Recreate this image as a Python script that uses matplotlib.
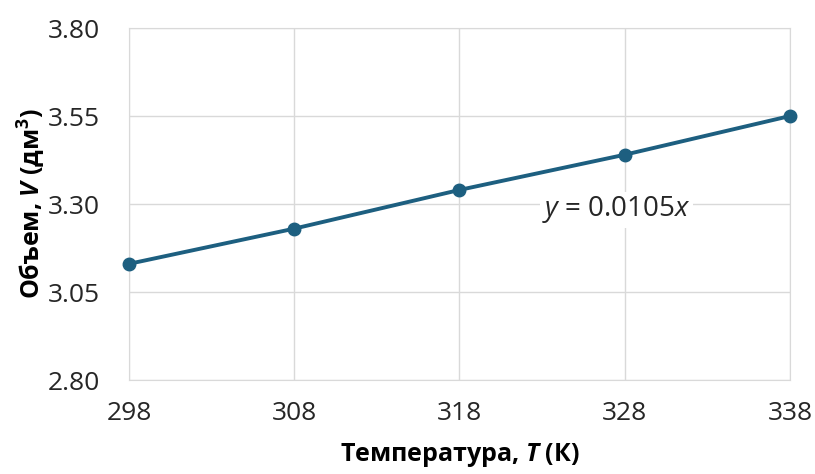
import matplotlib
matplotlib.use('Agg')
from matplotlib import pyplot as plt

temps = [298, 308, 318, 328, 338]
volumes = [3.13, 3.23, 3.34, 3.44, 3.55]
y_ticks = [2.80, 3.05, 3.30, 3.55, 3.80]
eq_text = '$y$ = 0.0105$x$'

plt.rcParams['font.family'] = ['Open Sans', 'DejaVu Sans']
plt.rcParams['mathtext.fontset'] = 'custom'
plt.rcParams['mathtext.rm'] = 'Open Sans'
plt.rcParams['mathtext.it'] = 'Open Sans:italic'
plt.rcParams['mathtext.bf'] = 'Open Sans:bold'
plt.rcParams['mathtext.bfit'] = 'Open Sans:italic:bold'

line_color = '#1d5f80'
grid_color = '#d9d9d9'

fig = plt.figure(figsize=(8.15, 4.74), dpi=100)
ax = fig.add_axes([0.1583, 0.1983, 0.8110, 0.7426])

ax.plot(temps, volumes, '-o', color=line_color, linewidth=2.8, markersize=9, zorder=3, clip_on=False)

ax.set_xlim(298, 338)
ax.set_ylim(2.80, 3.80)
ax.set_xticks(temps)
ax.set_yticks(y_ticks)
ax.set_yticklabels(['%.2f' % v for v in y_ticks])
ax.tick_params(length=0, labelsize=19, colors='#262626')
ax.tick_params(axis='y', pad=21)
ax.tick_params(axis='x', pad=15)
ax.grid(True, color=grid_color, linewidth=1)
for s in ax.spines.values():
    s.set_color(grid_color)

ax.set_xlabel('Температура, $\\mathbfit{T}$ (К)', fontsize=18, fontweight='bold', labelpad=11)
ax.set_ylabel('Объем, $\\mathbfit{V}$ (дм$^{\\mathbf{3}}$)', fontsize=18, fontweight='bold', labelpad=0)

ax.text(327.5, 3.283, eq_text, fontsize=20, ha='center', va='center', color='#262626',
        bbox=dict(facecolor='white', edgecolor='none', pad=2), zorder=4)

fig.savefig('out.png', dpi=100)
